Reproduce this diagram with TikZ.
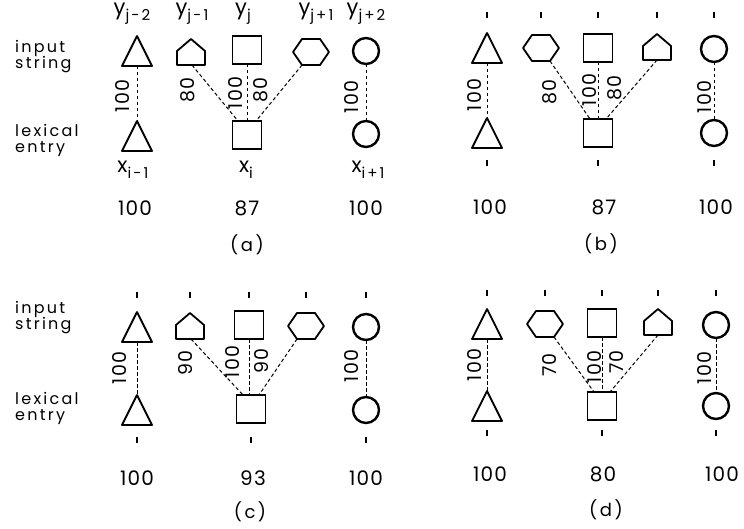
\documentclass[tikz,border=0pt]{standalone}
\usepackage{fontspec}
\setmainfont{Poppins}
\newfontfamily\lbl{Poppins}[LetterSpace=14]
\newfontfamily\nbl{Poppins}[LetterSpace=6]
\usetikzlibrary{calc}
\tikzset{
  shp/.style={line width=1.8pt, line join=round},
  cshp/.style={circle, draw, line width=2.4pt, minimum size=26pt, inner sep=0pt, outer sep=0pt},
  slot/.style={inner sep=0pt, outer sep=0pt},
  trislot/.style={slot, minimum width=30pt, minimum height=30pt},
  pentslot/.style={slot, minimum width=28pt, minimum height=26pt},
  sqshp/.style={slot, draw, line width=1.8pt, minimum width=29pt, minimum height=28pt},
  hexslot/.style={slot, minimum width=36pt, minimum height=26pt},
  link/.style={line width=1pt, dash pattern=on 3.5pt off 2.5pt},
  tickmark/.style={line width=1.1pt},
  rlab/.style={rotate=90, font=\nbl\fontsize{19}{19}\selectfont, inner sep=0pt},
  num/.style={font=\nbl\fontsize{20}{20}\selectfont, inner sep=0pt},
  side/.style={align=left, font=\lbl\fontsize{16}{16.5}\selectfont, anchor=north west, inner sep=0pt},
  panelcap/.style={font=\lbl\fontsize{18}{18}\selectfont, inner sep=0pt},
  var/.style={font=\fontsize{21}{21}\selectfont, inner sep=0pt},
}
\newcommand\drawtri[1]{\draw[shp] (#1.south west) -- (#1.south east) -- (#1.north) -- cycle;}
\newcommand\drawpent[1]{\draw[shp] (#1.south west) -- (#1.south east) -- ([yshift=1pt]#1.east) -- (#1.north) -- ([yshift=1pt]#1.west) -- cycle;}
\newcommand\drawhex[1]{\draw[shp] (#1.west) -- ([xshift=9pt]#1.north west) -- ([xshift=-9pt]#1.north east) -- (#1.east) -- ([xshift=-9pt]#1.south east) -- ([xshift=9pt]#1.south west) -- cycle;}
\newcommand\sub[1]{\raisebox{-6pt}{\lbl\fontsize{15}{15}\selectfont #1}}
\begin{document}
\begin{tikzpicture}[x=1pt,y=-1pt]
\useasboundingbox (0,0) rectangle (744,529);
% ---------------- panel (a)
\node[side] (aIn) at (15,40) {input\\string};
\node[side] (aLx) at (15,124) {lexical\\entry};
\node[var] (ay1) at (132,14) {y\sub{j-2}};
\node[var] (ay2) at (192,14) {y\sub{j-1}};
\node[var] (ay3) at (243,14) {y\sub{j}};
\node[var] (ay4) at (316,14) {y\sub{j+1}};
\node[var] (ay5) at (366,14) {y\sub{j+2}};
\node[trislot] (aT1) at (137,51) {}; \drawtri{aT1}
\node[pentslot] (aT2) at (191,52) {}; \drawpent{aT2}
\node[sqshp] (aT3) at (247,50) {};
\node[hexslot] (aT4) at (311,52) {}; \drawhex{aT4}
\node[cshp] (aT5) at (366,51) {};
\node[trislot] (aB1) at (137,136) {}; \drawtri{aB1}
\node[sqshp] (aB3) at (247,135) {};
\node[cshp] (aB5) at (366,134) {};
\draw[link] (aT1.south) -- (aB1.north);
\draw[link] ([xshift=1pt]aT2.south) -- ([xshift=-9pt]aB3.north);
\draw[link] (aT3.south) -- (aB3.north);
\draw[link] ([xshift=9pt]aT4.south west) -- ([xshift=9pt]aB3.north);
\draw[link] (aT5.south) -- (aB5.north);
\node[rlab] (al1) at (123,96) {100};
\node[rlab] (al2) at (188,90) {80};
\node[rlab] (al3) at (236,93) {100};
\node[rlab] (al4) at (261,90) {80};
\node[rlab] (al5) at (352,97) {100};
\node[var] (ax1) at (133,170) {x\sub{i-1}};
\node[var] (ax3) at (246,170) {x\sub{i}};
\node[var] (ax5) at (368,170) {x\sub{i+1}};
\node[num] (an1) at (135,208) {100};
\node[num] (an3) at (247,208) {87};
\node[num] (an5) at (366,208) {100};
\node[panelcap] (acap) at (247,245) {(a)};
% ---------------- panel (b)
\node[trislot] (bT1) at (487,48) {}; \drawtri{bT1}
\node[hexslot] (bT2) at (541,48) {}; \drawhex{bT2}
\node[sqshp] (bT3) at (598,48) {};
\node[pentslot] (bT4) at (657,47) {}; \drawpent{bT4}
\node[cshp] (bT5) at (714,49) {};
\node[trislot] (bB1) at (487,133) {}; \drawtri{bB1}
\node[sqshp] (bB3) at (598,133) {};
\node[cshp] (bB5) at (714,133) {};
\foreach \n in {bT1,bT2,bT3,bT4,bT5} \draw[tickmark] (\n |- 0,12) -- (\n |- 0,18);
\foreach \n in {bB1,bB3,bB5} \draw[tickmark] (\n |- 0,160) -- (\n |- 0,166);
\draw[link] (bT1.south) -- (bB1.north);
\draw[link] ([xshift=-9pt]bT2.south east) -- ([xshift=-8pt]bB3.north);
\draw[link] (bT3.south) -- (bB3.north);
\draw[link] (bT4.south) -- ([xshift=8pt]bB3.north);
\draw[link] (bT5.south) -- (bB5.north);
\node[rlab] (bl1) at (475,95) {100};
\node[rlab] (bl2) at (550,92) {80};
\node[rlab] (bl3) at (590,90) {100};
\node[rlab] (bl4) at (615,88) {80};
\node[rlab] (bl5) at (705,97) {100};
\node[num] (bn1) at (490,207) {100};
\node[num] (bn3) at (604,207) {87};
\node[num] (bn5) at (716,207) {100};
\node[panelcap] (bcap) at (601,244) {(b)};
% ---------------- panel (c)
\node[side] (cIn) at (15,301) {input\\string};
\node[side] (cLx) at (15,392) {lexical\\entry};
\node[trislot] (cT1) at (137,327) {}; \drawtri{cT1}
\node[pentslot] (cT2) at (190,326) {}; \drawpent{cT2}
\node[sqshp] (cT3) at (249,325) {};
\node[hexslot] (cT4) at (306,326) {}; \drawhex{cT4}
\node[cshp] (cT5) at (366,327) {};
\node[trislot] (cB1) at (137,410) {}; \drawtri{cB1}
\node[sqshp] (cB3) at (251,409) {};
\node[cshp] (cB5) at (366,410) {};
\foreach \n in {cT1,cT2,cT3,cT4,cT5} \draw[tickmark] (\n |- 0,292) -- (\n |- 0,298);
\foreach \n in {cB1,cB3,cB5} \draw[tickmark] (\n |- 0,437) -- (\n |- 0,443);
\draw[link] (cT1.south) -- (cB1.north);
\draw[link] ([xshift=1pt]cT2.south) -- ([xshift=-8pt]cB3.north);
\draw[link] (cT3.south) -- ([xshift=-2pt]cB3.north);
\draw[link] ([xshift=9pt]cT4.south west) -- ([xshift=8pt]cB3.north);
\draw[link] (cT5.south) -- (cB5.north);
\node[rlab] (cl1) at (120,368) {100};
\node[rlab] (cl2) at (186,363) {90};
\node[rlab] (cl3) at (233,362) {100};
\node[rlab] (cl4) at (262,361) {90};
\node[rlab] (cl5) at (352,366) {100};
\node[num] (cn1) at (137,478) {100};
\node[num] (cn3) at (253,478) {93};
\node[num] (cn5) at (366,478) {100};
\node[panelcap] (ccap) at (250,512) {(c)};
% ---------------- panel (d)
\node[trislot] (dT1) at (487,324) {}; \drawtri{dT1}
\node[hexslot] (dT2) at (545,324) {}; \drawhex{dT2}
\node[sqshp] (dT3) at (602,323) {};
\node[pentslot] (dT4) at (658,322) {}; \drawpent{dT4}
\node[cshp] (dT5) at (716,325) {};
\node[trislot] (dB1) at (487,406) {}; \drawtri{dB1}
\node[sqshp] (dB3) at (602,406) {};
\node[cshp] (dB5) at (716,406) {};
\foreach \n in {dT1,dT2,dT3,dT4,dT5} \draw[tickmark] (\n |- 0,290) -- (\n |- 0,296);
\foreach \n in {dB1,dB3,dB5} \draw[tickmark] (\n |- 0,430) -- (\n |- 0,436);
\draw[link] (dT1.south) -- (dB1.north);
\draw[link] ([xshift=-9pt]dT2.south east) -- ([xshift=-8pt]dB3.north);
\draw[link] (dT3.south) -- (dB3.north);
\draw[link] (dT4.south) -- ([xshift=8pt]dB3.north);
\draw[link] (dT5.south) -- (dB5.north);
\node[rlab] (dl1) at (475,365) {100};
\node[rlab] (dl2) at (550,365) {70};
\node[rlab] (dl3) at (595,367) {100};
\node[rlab] (dl4) at (617,362) {70};
\node[rlab] (dl5) at (705,368) {100};
\node[num] (dn1) at (490,474) {100};
\node[num] (dn3) at (603,474) {80};
\node[num] (dn5) at (722,474) {100};
\node[panelcap] (dcap) at (606,510) {(d)};
\end{tikzpicture}
\end{document}
